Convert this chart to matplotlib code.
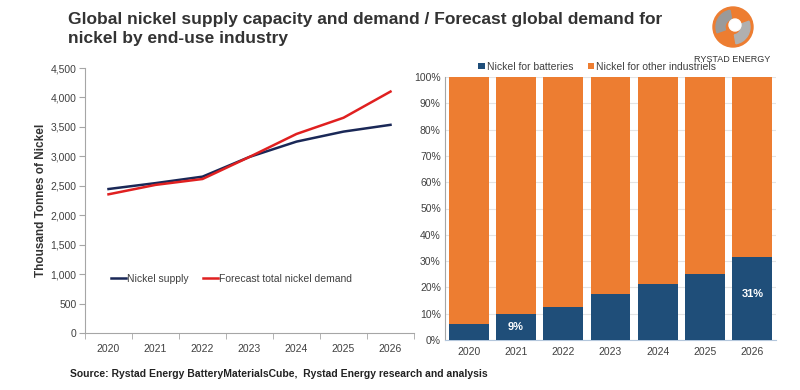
import matplotlib.pyplot as plt
import numpy as np
from matplotlib.patches import Wedge, Circle

years = ["2020", "2021", "2022", "2023", "2024", "2025", "2026"]
supply = [2445, 2545, 2655, 2990, 3250, 3420, 3535]
demand = [2355, 2515, 2615, 2990, 3380, 3655, 4100]
battery_share = [6.2, 9.7, 12.7, 17.5, 21.3, 25.1, 31.4]
other_share = [100 - v for v in battery_share]
bar_labels = {1: "9%", 6: "31%"}

navy = "#1a2857"
red = "#e02020"
blue = "#1f4e79"
orange = "#ed7d31"
axis_gray = "#a6a6a6"
text_gray = "#404040"

plt.rcParams["font.family"] = ["Liberation Sans", "DejaVu Sans"]

fig = plt.figure(figsize=(8, 3.9), dpi=100)

# title
fig.text(0.085, 0.97, "Global nickel supply capacity and demand / Forecast global demand for\nnickel by end-use industry",
         fontsize=12.5, fontweight="bold", color="#333333", va="top", ha="left", linespacing=1.35)

# left: line chart
ax1 = fig.add_axes([85 / 800, 1 - 333 / 390, 329 / 800, 265 / 390])
x = np.arange(len(years))
ax1.plot(x, supply, color=navy, lw=1.8, label="Nickel supply")
ax1.plot(x, demand, color=red, lw=1.8, label="Forecast total nickel demand")
ax1.set_xlim(-0.5, len(years) - 0.5)
ax1.set_ylim(0, 4500)
ax1.set_yticks(range(0, 4501, 500))
ax1.set_yticklabels([f"{v:,}" for v in range(0, 4501, 500)])
ax1.set_xticks(x)
ax1.set_xticklabels(years)
ax1.set_xticks(np.arange(-0.5, len(years), 1), minor=True)
ax1.tick_params(axis="x", which="major", length=0, pad=8)
ax1.tick_params(axis="x", which="minor", length=4, color=axis_gray)
ax1.tick_params(axis="y", length=4, color=axis_gray, pad=2)
ax1.tick_params(labelsize=7.5, labelcolor=text_gray)
for s in ["top", "right"]:
    ax1.spines[s].set_visible(False)
for s in ["left", "bottom"]:
    ax1.spines[s].set_color(axis_gray)
ax1.set_ylabel("Thousand Tonnes of Nickel", fontsize=8.5, fontweight="bold", color="#333333")
ax1.yaxis.set_label_coords(-0.115, 0.5)
ax1.legend(loc="center left", bbox_to_anchor=(0.05, 0.205), ncol=2, frameon=False, fontsize=7.5,
           handlelength=1.5, handletextpad=0.1, columnspacing=1.3, labelcolor=text_gray)

# right: stacked bar
ax2 = fig.add_axes([445 / 800, 1 - 340 / 390, 331 / 800, 263 / 390])
ax2.bar(x, battery_share, width=0.84, color=blue, label="Nickel for batteries", zorder=3)
ax2.bar(x, other_share, bottom=battery_share, width=0.84, color=orange, label="Nickel for other industriels", zorder=3)
for i, txt in bar_labels.items():
    ax2.text(i, battery_share[i] * (0.5 if i == 1 else 0.56), txt, ha="center", va="center",
             color="white", fontsize=8, fontweight="bold", zorder=4)
ax2.set_xlim(-0.5, len(years) - 0.5)
ax2.set_ylim(0, 100)
ax2.set_yticks(range(0, 101, 10))
ax2.set_yticklabels([f"{v}%" for v in range(0, 101, 10)])
ax2.set_xticks(x)
ax2.set_xticklabels(years)
ax2.tick_params(axis="x", length=0, pad=5)
ax2.tick_params(axis="y", length=0, pad=3)
ax2.tick_params(labelsize=7.5, labelcolor=text_gray)
ax2.grid(axis="y", color="#e4e4e4", lw=0.8, zorder=0)
for s in ["top", "right"]:
    ax2.spines[s].set_visible(False)
ax2.spines["left"].set_color(axis_gray)
ax2.spines["bottom"].set_color("#b4c7dc")
ax2.legend(loc="lower left", bbox_to_anchor=(0.085, 1.0), ncol=2, frameon=False, fontsize=7.5,
           handlelength=0.6, handleheight=0.6, handletextpad=0.2, columnspacing=1.4,
           borderaxespad=0.1, labelcolor=text_gray)

# logo
fig.text(732 / 800, 1 - 60 / 390, "RYSTAD ENERGY", fontsize=6.5, color="#333333", ha="center", va="center")
lax = fig.add_axes([711 / 800, 1 - 50 / 390, 44 / 800, 46 / 390])
lax.set_xlim(-1.1, 1.1)
lax.set_ylim(-1.1, 1.1)
lax.set_aspect("equal")
lax.axis("off")
lax.add_patch(Circle((0, 0), 1.0, color=orange))
lax.add_patch(Wedge((0, 0), 0.85, 100, 200, width=0.45, color="#9a9a9a"))
lax.add_patch(Wedge((0, 0), 0.85, 280, 20, width=0.45, color="#b0b0b0"))
lax.add_patch(Circle((0.1, 0.1), 0.3, color="white"))

# source
fig.text(70 / 800, 1 - 374 / 390, "Source: Rystad Energy BatteryMaterialsCube,  Rystad Energy research and analysis",
         fontsize=7.5, fontweight="bold", color="#222222", va="center", ha="left")

fig.savefig("out.png", dpi=100, facecolor="white")
